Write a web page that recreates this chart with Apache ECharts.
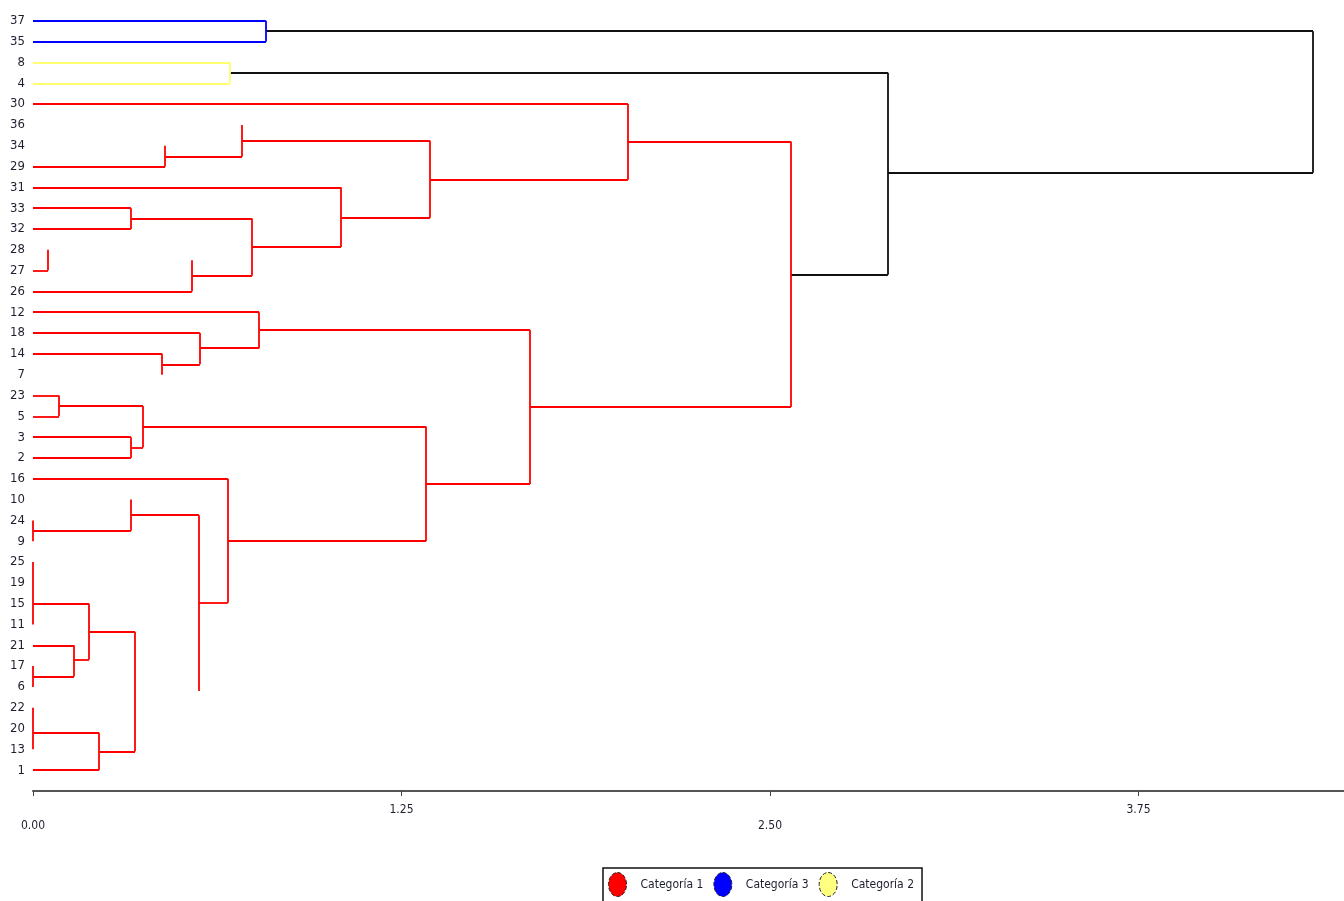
<!DOCTYPE html>
<html>
<head>
<meta charset="utf-8">
<script src="https://cdn.jsdelivr.net/npm/echarts@6/dist/echarts.min.js"></script>
<style>
html,body{margin:0;padding:0;background:#fff;}
#chart{width:1344px;height:901px;}
</style>
</head>
<body>
<div id="chart"></div>
<script>
// Leaf order (top to bottom)
const leafLabels = ['37','35','8','4','30','36','34','29','31','33','32','28','27','26','12','18','14','7','23','5','3','2','16','10','24','9','25','19','15','11','21','17','6','22','20','13','1'];
// X axis tick labels
const xTickValues = [0, 1.25, 2.5, 3.75];
const xTickLabels = ['0.00', '1.25', '2.50', '3.75'];
const legendNames = ['Categoría 1', 'Categoría 3', 'Categoría 2'];

// Horizontal links: [leaf position, from distance, to distance]
// Vertical links: [distance, from leaf position, to leaf position]
const cat3H = [[0,0,0.790],[1,0,0.790]];
const cat3V = [[0.790,0,1]];
const cat2H = [[2,0,0.668],[3,0,0.668]];
const cat2V = [[0.668,2,3]];
const rootH = [[0.5,0.790,4.342],[7.3,2.900,4.342],[2.5,0.668,2.900],[12.2,2.571,2.900]];
const rootV = [[4.342,0.5,7.3],[2.900,2.5,12.2]];
const cat1H = [
  [4,0,2.018],[7.63,1.347,2.018],[5.8,2.018,2.571],
  [5.76,0.709,1.347],[6.53,0.448,0.709],[7,0,0.448],
  [9.46,1.045,1.347],[8,0,1.045],[10.87,0.743,1.045],[9.5,0.332,0.743],[9,0,0.332],[10,0,0.332],[12.25,0.539,0.743],[13,0,0.539],[12,0,0.051],
  [18.55,1.686,2.571],[14.85,0.767,1.686],[14,0,0.767],[15.73,0.566,0.767],[15,0,0.566],[16.5,0.438,0.566],[16,0,0.438],
  [22.25,1.333,1.686],[19.49,0.373,1.333],[18.5,0.088,0.373],[18,0,0.088],[19,0,0.088],[20.5,0.332,0.373],[20,0,0.332],[21,0,0.332],
  [25,0.661,1.333],[22,0,0.661],[27.96,0.563,0.661],[23.75,0.332,0.563],[24.5,0,0.332],
  [28,0,0.190],[30.7,0.139,0.190],[30,0,0.139],[31.5,0,0.139],
  [29.35,0.190,0.346],[35.1,0.224,0.346],[34.2,0,0.224],[36,0,0.224]
];
const cat1V = [
  [2.018,4,7.63],[2.571,5.8,18.55],[1.347,5.76,9.46],[0.709,5,6.53],[0.448,6,7],
  [1.045,8,10.87],[0.743,9.5,12.25],[0.332,9,10],[0.539,11.5,13],[0.051,11,12],
  [1.686,14.85,22.25],[0.767,14,15.73],[0.566,15,16.5],[0.438,16,17],
  [1.333,19.49,25],[0.373,18.5,20.5],[0.088,18,19],[0.332,20,21],
  [0.661,22,27.96],[0.563,23.75,32.2],[0.332,23,24.5],[0,24,25],
  [0,26,29],[0.190,28,30.7],[0.139,30,31.5],[0,31,32],
  [0.346,29.35,35.1],[0.224,34.2,36],[0,33,35]
];

function toLines(H, V) {
  const out = [];
  H.forEach(h => out.push({coords: [[h[1], h[0]], [h[2], h[0]]]}));
  V.forEach(v => out.push({coords: [[v[0], v[1]], [v[0], v[2]]]}));
  return out;
}

const font = '"DejaVu Sans Condensed", "Liberation Sans Narrow", "Liberation Sans", Arial, sans-serif';
const chart = echarts.init(document.getElementById('chart'), null, {renderer: 'canvas'});

function lineSeries(name, color, H, V) {
  return {
    name: name,
    type: 'lines',
    coordinateSystem: 'cartesian2d',
    polyline: false,
    clip: false,
    silent: true,
    color: color,
    lineStyle: {color: color, width: 1.8, opacity: 1},
    data: toLines(H, V)
  };
}

const circlePath = 'path://M50,0 A50,50 0 1,1 50,100 A50,50 0 1,1 50,0 Z';

chart.setOption({
  animation: false,
  backgroundColor: '#fff',
  grid: {left: 33, right: 0, top: 0, bottom: 110, containLabel: false},
  xAxis: {
    type: 'value',
    position: 'bottom',
    min: 0,
    max: 4.447,
    interval: 1.25,
    splitLine: {show: false},
    axisLine: {show: true, onZero: false, lineStyle: {color: '#555', width: 2}},
    axisTick: {show: true, length: 5, lineStyle: {color: '#444', width: 1}},
    axisLabel: {
      margin: 13,
      fontFamily: font,
      fontSize: 12,
      color: '#1e1e30',
      showMaxLabel: false,
      formatter: function (v) {
        const i = xTickValues.findIndex(t => Math.abs(t - v) < 1e-6);
        if (i < 0) return '';
        return (i % 2 === 0 ? '{lo|' : '{hi|') + xTickLabels[i] + '}';
      },
      rich: {
        lo: {fontFamily: font, fontSize: 12, color: '#1e1e30', padding: [16, 0, 0, 0]},
        hi: {fontFamily: font, fontSize: 12, color: '#1e1e30'}
      }
    }
  },
  yAxis: {
    type: 'value',
    inverse: true,
    min: -1,
    max: 37,
    interval: 1,
    splitLine: {show: false},
    axisLine: {show: false},
    axisTick: {show: false},
    axisLabel: {
      margin: 8,
      fontFamily: font,
      fontSize: 13,
      color: '#1e1e30',
      showMinLabel: false,
      showMaxLabel: false,
      formatter: function (v) {
        const i = Math.round(v);
        return (Math.abs(v - i) < 1e-6 && leafLabels[i] !== undefined) ? leafLabels[i] : '';
      }
    }
  },
  legend: {
    left: 603,
    top: 868,
    orient: 'horizontal',
    padding: [4, 8, 8, 5],
    borderColor: '#111',
    borderWidth: 1.5,
    itemWidth: 18,
    itemHeight: 24,
    itemGap: 10,
    symbolKeepAspect: false,
    selectedMode: false,
    textStyle: {fontFamily: font, fontSize: 12, color: '#1e1e30', padding: [0, 0, 0, 9]},
    itemStyle: {borderColor: '#222', borderWidth: 1, borderType: 'dashed'},
    data: [
      {name: legendNames[0], icon: circlePath, itemStyle: {color: '#ff0000'}},
      {name: legendNames[1], icon: circlePath, itemStyle: {color: '#0000ff'}},
      {name: legendNames[2], icon: circlePath, itemStyle: {color: '#ffff80'}}
    ]
  },
  series: [
    lineSeries('root', '#111111', rootH, rootV),
    lineSeries(legendNames[0], '#ff0000', cat1H, cat1V),
    lineSeries(legendNames[1], '#0000ff', cat3H, cat3V),
    lineSeries(legendNames[2], '#ffff70', cat2H, cat2V)
  ]
});
</script>
</body>
</html>
